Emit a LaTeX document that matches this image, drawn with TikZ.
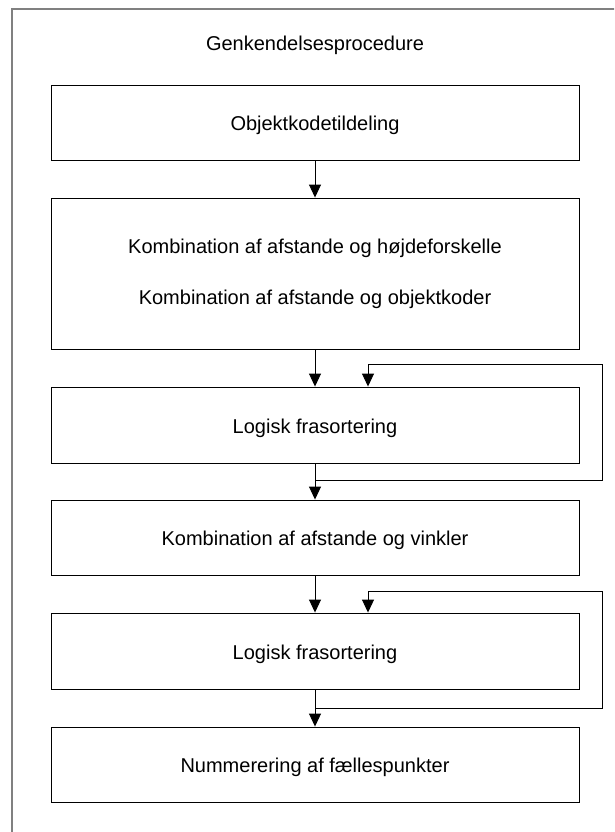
\documentclass[tikz,border=0pt]{standalone}
\usepackage{fontspec}
\setmainfont{Liberation Sans}
\usetikzlibrary{arrows.meta}

\begin{document}
\begin{tikzpicture}[
  x=1pt, y=-1pt,
  every node/.style={font=\fontsize{20}{24}\selectfont},
  stepbox/.style={draw=black, line width=0.9pt, rectangle, minimum width=528pt,
                  inner sep=0pt, align=center},
  oneline/.style={text height=20.5pt, text depth=4.2pt},
  flow/.style={line width=0.9pt, -{Triangle[width=12pt,length=13pt]}}
]
% page size and clipping of the outer frame
\useasboundingbox (0,0) rectangle (614,832);
\clip (0,0) rectangle (614,832);
\fill[white] (0,0) rectangle (614,832);

% outer frame, running off the right and bottom edges
\draw[line width=1.3pt, draw=black!50] (12,900) -- (12,9) -- (700,9);

\node (title) at (315,45) {Genkendelsesprocedure};

% process steps
\node[stepbox, oneline, minimum height=75pt]  (b1) at (315,122.5) {Objektkodetildeling};
\node[stepbox, minimum height=151pt] (b2) at (315,273.5)
  {Kombination af afstande og højdeforskelle\\[27pt]Kombination af afstande og objektkoder};
\node[stepbox, oneline, minimum height=76pt]  (b3) at (315,425) {Logisk frasortering};
\node[stepbox, oneline, minimum height=75pt]  (b4) at (315,537.5) {Kombination af afstande og vinkler};
\node[stepbox, oneline, minimum height=76pt]  (b5) at (315,651) {Logisk frasortering};
\node[stepbox, oneline, minimum height=75pt]  (b6) at (315,764.5) {Nummerering af fællespunkter};

% turning points of the two feedback loops
\coordinate (r1) at (602,480);
\coordinate (t1) at (602,364);
\coordinate (r2) at (602,708);
\coordinate (t2) at (602,591);

% main flow
\draw[flow] (b1) -- (b2);
\draw[flow] (b2) -- (b3);
\draw[flow] (b3) -- (b4);
\draw[flow] (b4) -- (b5);
\draw[flow] (b5) -- (b6);

% feedback loops back into each sorting step
\draw[flow] (b3.south) |- (r1) -- (t1) -| ([xshift=53pt]b3.north);
\draw[flow] (b5.south) |- (r2) -- (t2) -| ([xshift=53pt]b5.north);
\end{tikzpicture}
\end{document}
